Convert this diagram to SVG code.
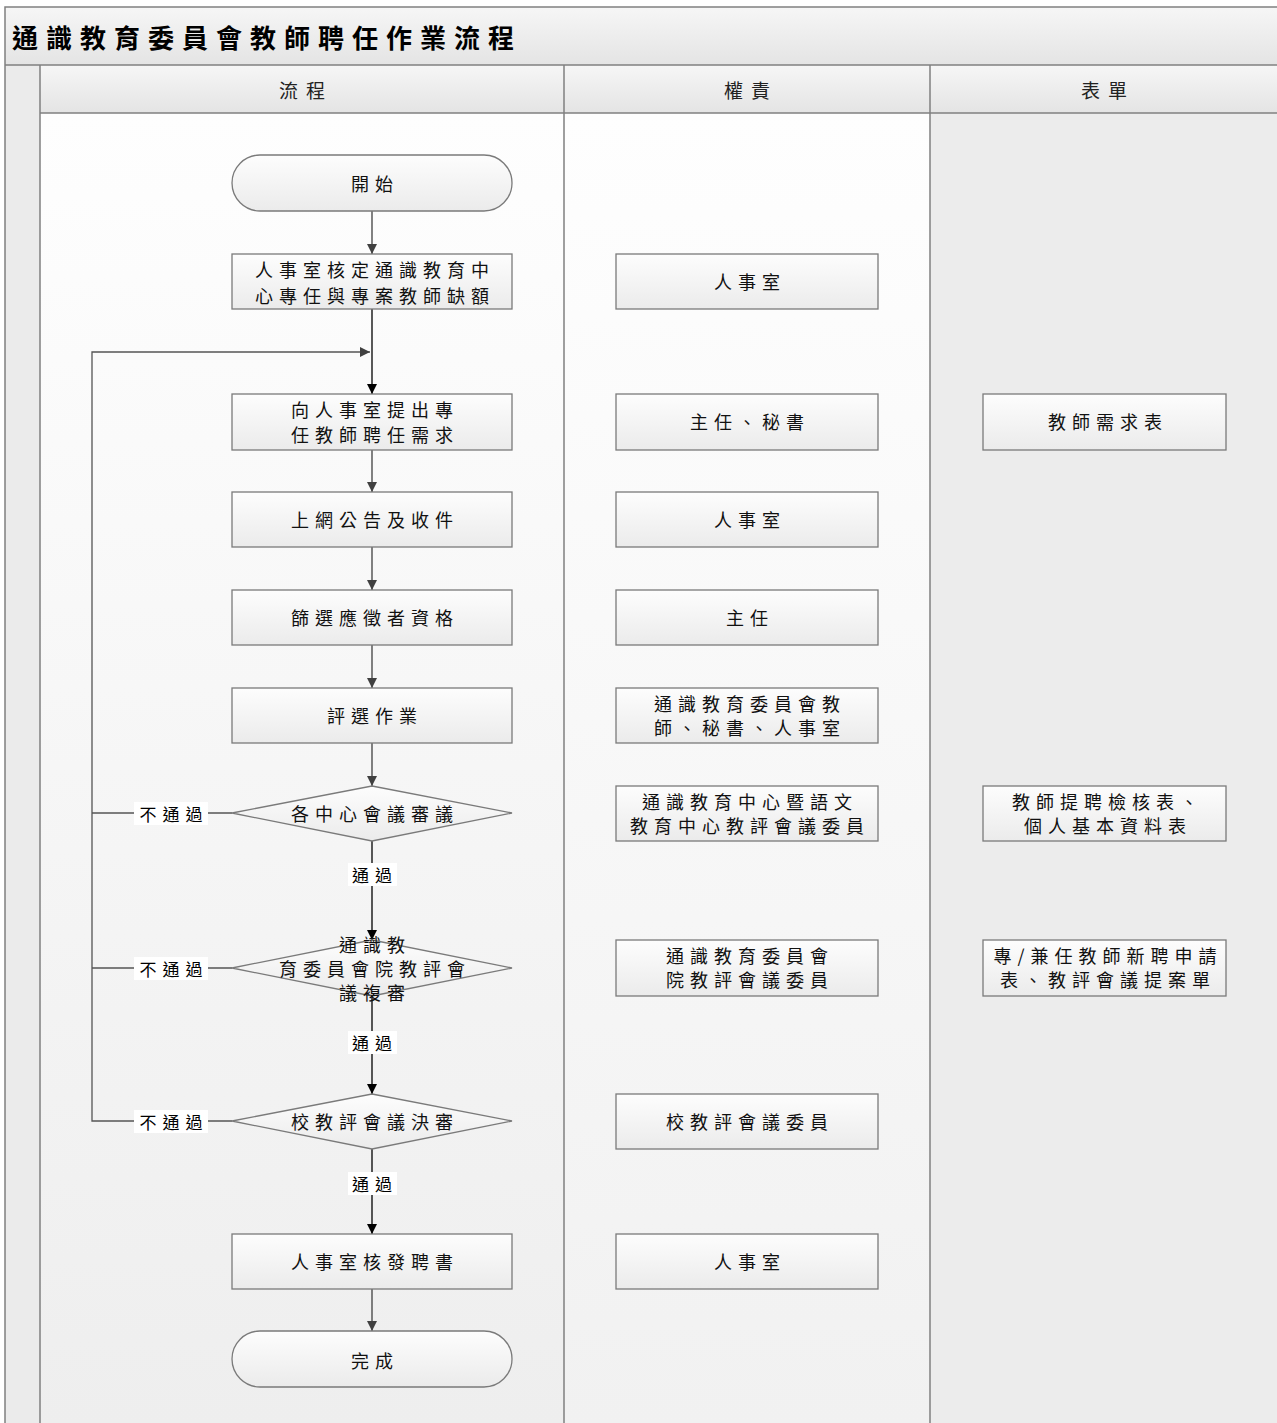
<svg xmlns="http://www.w3.org/2000/svg" width="1277" height="1423" viewBox="0 0 1277 1423">
<defs>
<linearGradient id="gCol" x1="0" y1="0" x2="0" y2="1"><stop offset="0" stop-color="#fefefe"/><stop offset="1" stop-color="#eeeeee"/></linearGradient>
<linearGradient id="gCol2" x1="0" y1="0" x2="0" y2="1"><stop offset="0" stop-color="#fefefe"/><stop offset="1" stop-color="#f1f1f1"/></linearGradient>
<linearGradient id="gHead" x1="0" y1="0" x2="0" y2="1"><stop offset="0" stop-color="#f6f6f6"/><stop offset="1" stop-color="#e4e4e4"/></linearGradient>
<linearGradient id="gNode" x1="0" y1="0" x2="0" y2="1"><stop offset="0" stop-color="#fdfdfd"/><stop offset="1" stop-color="#ebebeb"/></linearGradient>
<marker id="aG" markerWidth="10" markerHeight="10" refX="10" refY="5" orient="auto" markerUnits="userSpaceOnUse"><path d="M0,0 L10,5 L0,10 Z" fill="#404040"/></marker>
<marker id="aB" markerWidth="10" markerHeight="10" refX="10" refY="5" orient="auto" markerUnits="userSpaceOnUse"><path d="M0,0 L10,5 L0,10 Z" fill="#000"/></marker>
</defs>
<style>
.t{font-family:"Noto Sans CJK TC","Noto Sans CJK SC",sans-serif;font-size:18px;letter-spacing:6px;fill:#111;text-anchor:middle;dominant-baseline:central}
.title{font-family:"Noto Sans CJK TC",sans-serif;font-size:26px;font-weight:bold;letter-spacing:8px;fill:#000;dominant-baseline:central}
.h{font-family:"Noto Sans CJK TC",sans-serif;font-size:19px;letter-spacing:8px;fill:#222;text-anchor:middle;dominant-baseline:central}
.lb{font-family:"Noto Sans CJK TC",sans-serif;font-size:17px;letter-spacing:6px;fill:#000;text-anchor:middle;dominant-baseline:central}
.box{fill:url(#gNode);stroke:#7a7a7a;stroke-width:1.3}
.frame{fill:none;stroke:#808080;stroke-width:1.5}
.cg{fill:none;stroke:#404040;stroke-width:1.3}
.cb{fill:none;stroke:#000;stroke-width:1.3}
.cl{fill:none;stroke:#555;stroke-width:1.3}
</style>
<rect x="0" y="0" width="1277" height="1423" fill="#fff"/>
<rect x="5" y="7" width="1272" height="58" fill="url(#gHead)"/>
<rect x="5" y="65" width="35" height="1358" fill="#ebebeb"/>
<rect x="40" y="65" width="1237" height="48" fill="url(#gHead)"/>
<rect x="40" y="113" width="524" height="1310" fill="url(#gCol)"/>
<rect x="564" y="113" width="366" height="1310" fill="url(#gCol2)"/>
<rect x="930" y="113" width="347" height="1310" fill="#ececec"/>
<path class="frame" d="M5,1423 V7 H1277 M5,65 H1277 M40,65 V1423 M40,113 H1277 M564,65 V1423 M930,65 V1423"/>
<text class="title" x="12" y="36">通識教育委員會教師聘任作業流程</text>
<text class="h" x="306" y="89">流程</text>
<text class="h" x="751" y="89">權責</text>
<text class="h" x="1108" y="89">表單</text>

<g id="connectors">
<line class="cg" x1="372" y1="211" x2="372" y2="254" marker-end="url(#aG)"/>
<line class="cb" x1="372" y1="309" x2="372" y2="394" marker-end="url(#aB)"/>
<line class="cg" x1="372" y1="450" x2="372" y2="492" marker-end="url(#aG)"/>
<line class="cg" x1="372" y1="547" x2="372" y2="590" marker-end="url(#aG)"/>
<line class="cg" x1="372" y1="645" x2="372" y2="688" marker-end="url(#aG)"/>
<line class="cg" x1="372" y1="743" x2="372" y2="786" marker-end="url(#aG)"/>
<line class="cb" x1="372" y1="841" x2="372" y2="940" marker-end="url(#aB)"/>
<line class="cb" x1="372" y1="996" x2="372" y2="1094" marker-end="url(#aB)"/>
<line class="cb" x1="372" y1="1149" x2="372" y2="1234" marker-end="url(#aB)"/>
<line class="cg" x1="372" y1="1289" x2="372" y2="1331" marker-end="url(#aG)"/>
<polyline class="cl" points="232,813 92,813"/>
<polyline class="cl" points="232,968 92,968"/>
<polyline class="cl" points="232,1121 92,1121 92,352 370,352" marker-end="url(#aG)"/>
<g id="lbl">
<rect x="134" y="802" width="74" height="23" fill="#fff"/><text class="lb" x="174" y="813">不通過</text>
<rect x="134" y="957" width="74" height="23" fill="#fff"/><text class="lb" x="174" y="968">不通過</text>
<rect x="134" y="1110" width="74" height="23" fill="#fff"/><text class="lb" x="174" y="1121">不通過</text>
<rect x="348" y="863" width="49" height="23" fill="#fff"/><text class="lb" x="375" y="874">通過</text>
<rect x="348" y="1031" width="49" height="23" fill="#fff"/><text class="lb" x="375" y="1042">通過</text>
<rect x="348" y="1172" width="49" height="23" fill="#fff"/><text class="lb" x="375" y="1183">通過</text>
</g>
</g>

<g id="n-start"><rect class="box" x="232" y="155" width="280" height="56" rx="28"/><text class="t" x="375" y="183">開始</text></g>
<g id="n-1"><rect class="box" x="232" y="254" width="280" height="55"/><text class="t" x="375" y="269">人事室核定通識教育中</text><text class="t" x="375" y="295">心專任與專案教師缺額</text></g>
<g id="n-2"><rect class="box" x="232" y="394" width="280" height="56"/><text class="t" x="375" y="409">向人事室提出專</text><text class="t" x="375" y="434">任教師聘任需求</text></g>
<g id="n-3"><rect class="box" x="232" y="492" width="280" height="55"/><text class="t" x="375" y="519">上網公告及收件</text></g>
<g id="n-4"><rect class="box" x="232" y="590" width="280" height="55"/><text class="t" x="375" y="617">篩選應徵者資格</text></g>
<g id="n-5"><rect class="box" x="232" y="688" width="280" height="55"/><text class="t" x="375" y="715">評選作業</text></g>
<g id="n-d1"><polygon class="box" points="372,786 512,813 372,841 232,813"/><text class="t" x="375" y="813">各中心會議審議</text></g>
<g id="n-d2"><polygon class="box" points="372,940 512,968 372,996 232,968"/><text class="t" x="375" y="944">通識教</text><text class="t" x="375" y="968">育委員會院教評會</text><text class="t" x="375" y="992">議複審</text></g>
<g id="n-d3"><polygon class="box" points="372,1094 512,1121 372,1149 232,1121"/><text class="t" x="375" y="1121">校教評會議決審</text></g>
<g id="n-6"><rect class="box" x="232" y="1234" width="280" height="55"/><text class="t" x="375" y="1261">人事室核發聘書</text></g>
<g id="n-end"><rect class="box" x="232" y="1331" width="280" height="56" rx="28"/><text class="t" x="375" y="1360">完成</text></g>

<g id="r-1"><rect class="box" x="616" y="254" width="262" height="55"/><text class="t" x="750" y="281">人事室</text></g>
<g id="r-2"><rect class="box" x="616" y="394" width="262" height="56"/><text class="t" x="750" y="421">主任、秘書</text></g>
<g id="r-3"><rect class="box" x="616" y="492" width="262" height="55"/><text class="t" x="750" y="519">人事室</text></g>
<g id="r-4"><rect class="box" x="616" y="590" width="262" height="55"/><text class="t" x="750" y="617">主任</text></g>
<g id="r-5"><rect class="box" x="616" y="688" width="262" height="55"/><text class="t" x="750" y="703">通識教育委員會教</text><text class="t" x="750" y="727">師、秘書、人事室</text></g>
<g id="r-6"><rect class="box" x="616" y="786" width="262" height="55"/><text class="t" x="750" y="801">通識教育中心暨語文</text><text class="t" x="750" y="825">教育中心教評會議委員</text></g>
<g id="r-7"><rect class="box" x="616" y="940" width="262" height="56"/><text class="t" x="750" y="955">通識教育委員會</text><text class="t" x="750" y="979">院教評會議委員</text></g>
<g id="r-8"><rect class="box" x="616" y="1094" width="262" height="55"/><text class="t" x="750" y="1121">校教評會議委員</text></g>
<g id="r-9"><rect class="box" x="616" y="1234" width="262" height="55"/><text class="t" x="750" y="1261">人事室</text></g>

<g id="f-1"><rect class="box" x="983" y="394" width="243" height="56"/><text class="t" x="1108" y="421">教師需求表</text></g>
<g id="f-2"><rect class="box" x="983" y="786" width="243" height="55"/><text class="t" x="1108" y="801">教師提聘檢核表、</text><text class="t" x="1108" y="825">個人基本資料表</text></g>
<g id="f-3"><rect class="box" x="983" y="940" width="243" height="56"/><text class="t" x="1108" y="955">專/兼任教師新聘申請</text><text class="t" x="1108" y="979">表、教評會議提案單</text></g>
</svg>
